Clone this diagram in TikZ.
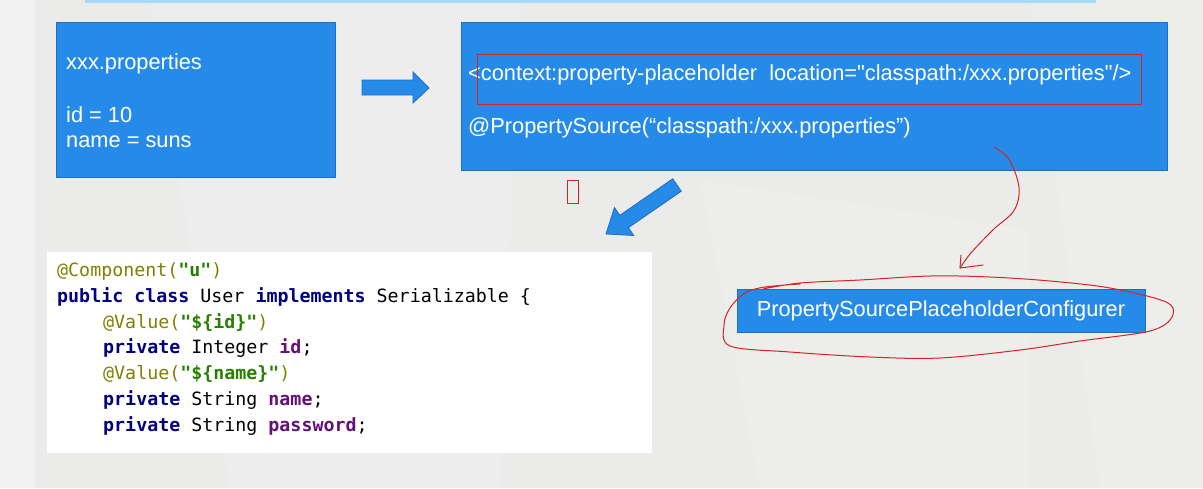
\documentclass[tikz,border=0pt]{standalone}
\usepackage{fontspec}
\setmainfont{Liberation Sans}
\newfontfamily\rawsans{Liberation Sans}
\newfontfamily\codefont{DejaVu Sans Mono}
\usetikzlibrary{calc}
\definecolor{bg}{HTML}{EBEBEA}
\definecolor{bgl}{HTML}{F2F2F2}
\definecolor{boxblue}{HTML}{268BE8}
\definecolor{boxedge}{HTML}{1D6FC4}
\definecolor{topline}{HTML}{A9D9F9}
\definecolor{annot}{HTML}{808000}
\definecolor{kw}{HTML}{000080}
\definecolor{str}{HTML}{2A8000}
\definecolor{fld}{HTML}{660E7A}
\definecolor{pen}{HTML}{D42424}
\tikzset{
  bluebox/.style={fill=boxblue,draw=boxedge,line width=0.8pt},
  boxtext/.style={text=white,anchor=base west,inner sep=0,font=\rawsans\fontsize{21.8}{26}\selectfont},
  codeline/.style={anchor=base west,inner sep=0,font=\codefont\fontsize{18.3}{22}\selectfont},
  penline/.style={draw=pen,line width=1pt,line cap=round,line join=round},
}
\newcommand{\an}[1]{\textcolor{annot}{#1}}
\newcommand{\kwd}[1]{\textcolor{kw}{\bfseries #1}}
\newcommand{\st}[1]{\textcolor{str}{\bfseries #1}}
\newcommand{\fl}[1]{\textcolor{fld}{\bfseries #1}}
\begin{document}
\begin{tikzpicture}[x=1pt,y=-1pt]
\useasboundingbox (0,0) rectangle (1203,488);
% background
\fill[bg] (0,0) rectangle (1203,488);
\fill[bgl] (0,0) rectangle (35,488);
\fill[white,opacity=0.15] (150,0) -- (520,0) -- (500,488) -- (230,488) -- cycle;
\fill[white,opacity=0.12] (700,180) -- (1030,230) -- (1030,488) -- (760,488) -- cycle;
\fill[white,opacity=0.1] (1030,0) -- (1203,0) -- (1203,488) -- (1100,488) -- cycle;
\fill[topline] (85,0) rectangle (1096,2.5);

% box 1
\node[bluebox,minimum width=279pt,minimum height=155pt,inner sep=0,anchor=north west] (props) at (56,22) {};
\node[boxtext] (pname) at (66,69) {xxx.properties};
\node[boxtext] (pid) at (66,122) {id = 10};
\node[boxtext] (pnm) at (66,147) {name = suns};

% box 2
\node[bluebox,minimum width=706pt,minimum height=148pt,inner sep=0,anchor=north west] (cfg) at (461,22) {};
\node[boxtext] (ctx) at (468,80.5) {<context:property-placeholder\ \ location="classpath:/xxx.properties"/>};
\node[boxtext] (psrc) at (468,133.5) {@PropertySource(“classpath:/xxx.properties”)};
\node[draw=pen,line width=1pt,minimum width=664pt,minimum height=50pt,inner sep=0,anchor=north west] (redrect) at (477,54) {};

% right arrow
\draw[bluebox] (362,80) -- (413,80) -- (413,72) -- (429,88) -- (413,103) -- (413,95) -- (362,95) -- cycle;

% small red rectangle
\node[draw=pen,line width=0.8pt,minimum width=11pt,minimum height=23pt,inner sep=0,anchor=north west] (mark) at (567,180) {};

% down-left arrow
\draw[bluebox] (672.7,178.8) -- (681.3,191.2) -- (628.4,227.7) -- (633.8,235.5) -- (606,234) -- (614.4,207.5) -- (619.8,215.3) -- cycle;

% code box
\node[fill=white,minimum width=605pt,minimum height=201pt,inner sep=0,anchor=north west] (code) at (47,252) {};
\node[codeline] (c1) at (57,276.5) {\an{@Component(}\st{"u"}\an{)}};
\node[codeline] (c2) at (57,302.3) {\kwd{public} \kwd{class} User \kwd{implements} Serializable \{};
\node[codeline] (c3) at (103,328.1) {\an{@Value(}\st{"\$\{id\}"}\an{)}};
\node[codeline] (c4) at (103,353.9) {\kwd{private} Integer \fl{id};};
\node[codeline] (c5) at (103,379.7) {\an{@Value(}\st{"\$\{name\}"}\an{)}};
\node[codeline] (c6) at (103,405.5) {\kwd{private} String \fl{name};};
\node[codeline] (c7) at (103,431.3) {\kwd{private} String \fl{password};};

% configurer box
\node[bluebox,minimum width=408pt,minimum height=43pt,inner sep=0,anchor=north west] (psp) at (737,289) {};
\node[text=white,inner sep=0,font=\rawsans\fontsize{21.8}{26}\selectfont] (psptext) at (941,311) {PropertySourcePlaceholderConfigurer};

% hand-drawn red curve with arrow
\coordinate (penstart) at (994,147);
\coordinate (pentip) at (960,268);
\draw[penline] plot[smooth,tension=0.6] coordinates {(penstart) (1008,158) (1017,178) (1019,195) (1013,212) (995,228) (983,240) (970,254) (pentip)};
\draw[penline] (961,255) -- (pentip) -- (983,265);
% hand-drawn loop around configurer box
\draw[penline] plot[smooth,tension=0.55] coordinates {(800,284) (765,287) (745,293) (730,308) (724,325) (730,346) (790,352) (870,357) (940,358) (1020,350) (1080,341) (1150,331) (1172,317) (1166,302) (1110,288) (1050,281) (990,277) (930,276) (860,280) (800,283) (763,289)};
\end{tikzpicture}
\end{document}
